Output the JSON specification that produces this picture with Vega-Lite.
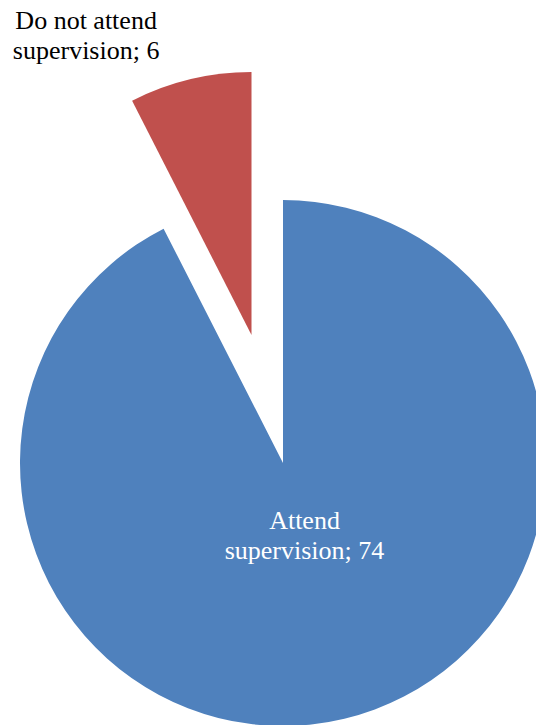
{
  "$schema": "https://vega.github.io/schema/vega-lite/v6.json",
  "width": 506,
  "height": 524,
  "autosize": {"type": "none"},
  "padding": {"left": 30, "top": 201, "right": 0, "bottom": 0},
  "background": "white",
  "config": {"view": {"stroke": null}},
  "data": {
    "values": [
      {"category": "Attend supervision", "value": 74, "label": "Attend\nsupervision; 74"},
      {"category": "Do not attend supervision", "value": 6, "label": "Do not attend\nsupervision; 6"}
    ]
  },
  "encoding": {
    "theta": {"field": "value", "type": "quantitative", "stack": true, "scale": {"domain": [0, 80]}},
    "order": {"field": "category", "type": "ordinal", "sort": "ascending"}
  },
  "layer": [
    {
      "mark": {"type": "arc", "outerRadius": 263},
      "encoding": {
        "color": {"field": "category", "type": "nominal", "scale": {"domain": ["Attend supervision", "Do not attend supervision"], "range": ["#4F81BD", "#C0504D"]}, "legend": null},
        "opacity": {"condition": {"test": "datum.category == 'Attend supervision'", "value": 1}, "value": 0}
      }
    },
    {
      "mark": {"type": "arc", "outerRadius": 263, "xOffset": -31.5, "yOffset": -128},
      "encoding": {
        "color": {"field": "category", "type": "nominal", "scale": {"domain": ["Attend supervision", "Do not attend supervision"], "range": ["#4F81BD", "#C0504D"]}, "legend": null},
        "opacity": {"condition": {"test": "datum.category == 'Do not attend supervision'", "value": 1}, "value": 0}
      }
    },
    {
      "mark": {"type": "text", "radius": 75, "xOffset": 4, "yOffset": -15, "font": "Liberation Serif", "fontSize": 26, "lineHeight": 30, "lineBreak": "\n", "align": "center", "baseline": "middle", "color": "white"},
      "encoding": {
        "text": {"condition": {"test": "datum.category == 'Attend supervision'", "field": "label"}, "value": ""}
      }
    },
    {
      "mark": {"type": "text", "radius": 340, "thetaOffset": -0.269, "xOffset": -32.5, "yOffset": -144, "font": "Liberation Serif", "fontSize": 26, "lineHeight": 30, "lineBreak": "\n", "align": "center", "baseline": "middle", "color": "black"},
      "encoding": {
        "text": {"condition": {"test": "datum.category == 'Do not attend supervision'", "field": "label"}, "value": ""}
      }
    }
  ]
}
